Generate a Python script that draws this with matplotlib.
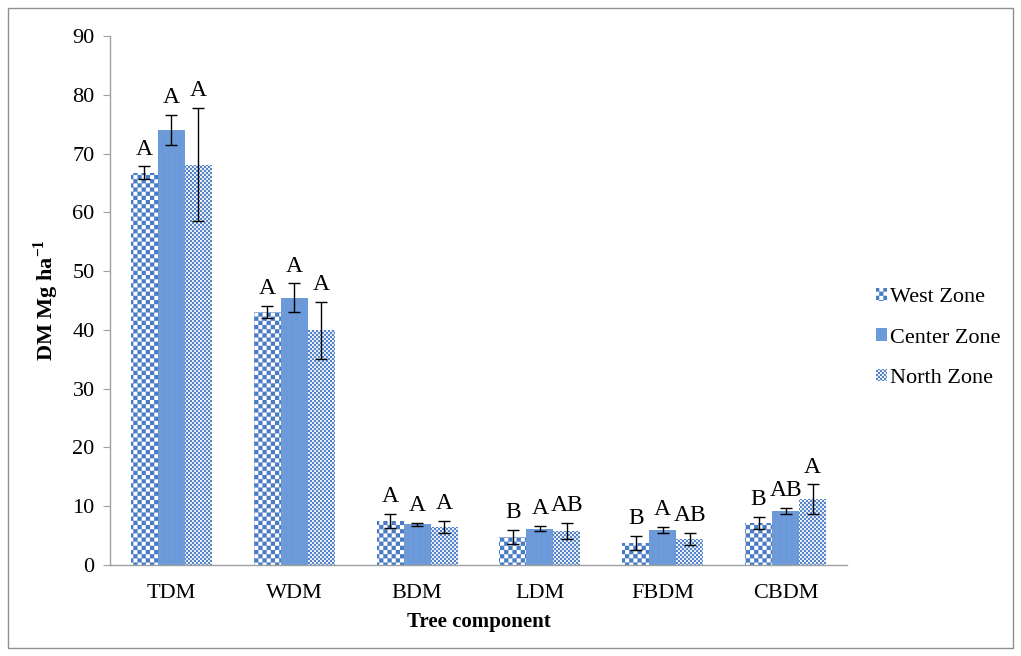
import warnings
import numpy as np
import matplotlib
matplotlib.use("Agg")
import matplotlib.pyplot as plt
import matplotlib.hatch as mhatch
from matplotlib.path import Path
from matplotlib.patches import Rectangle

warnings.filterwarnings("ignore")

components = ["TDM", "WDM", "BDM", "LDM", "FBDM", "CBDM"]
zones = ["West Zone", "Center Zone", "North Zone"]

west = [66.7, 43.0, 7.5, 4.7, 3.8, 7.1]
center = [74.0, 45.5, 6.9, 6.2, 5.9, 9.2]
north = [68.1, 39.9, 6.5, 5.8, 4.4, 11.2]

west_err = [1.1, 1.0, 1.2, 1.2, 1.2, 1.0]
center_err = [2.6, 2.4, 0.3, 0.5, 0.5, 0.5]
north_err = [9.6, 4.9, 1.0, 1.3, 1.0, 2.5]

west_lbl = ["A", "A", "A", "B", "B", "B"]
center_lbl = ["A", "A", "A", "A", "A", "AB"]
north_lbl = ["A", "A", "A", "AB", "AB", "A"]


class Checker(mhatch.HatchPatternBase):
    # filled checkerboard squares: 'c' coarse, 'k' fine
    def __init__(self, hatch, density):
        n = 24 * hatch.count("c") + 50 * hatch.count("k")
        self.n = n
        self.squares = [(i, j) for i in range(n) for j in range(n) if (i + j) % 2 == 0] if n else []
        self.num_vertices = len(self.squares) * 5

    def set_vertices_and_codes(self, vertices, codes):
        s = 1.0 / self.n
        k = 0
        for i, j in self.squares:
            x, y = i * s, j * s
            vertices[k:k + 5] = [(x, y), (x + s, y), (x + s, y + s), (x, y + s), (x, y)]
            codes[k:k + 5] = [Path.MOVETO, Path.LINETO, Path.LINETO, Path.LINETO, Path.CLOSEPOLY]
            k += 5


mhatch._hatch_types.append(Checker)
plt.rcParams["hatch.linewidth"] = 0.1
plt.rcParams["font.family"] = ["Liberation Serif", "DejaVu Serif"]
plt.rcParams["mathtext.fontset"] = "custom"
plt.rcParams["mathtext.rm"] = "Liberation Serif"
plt.rcParams["mathtext.bf"] = "Liberation Serif:bold"

fig = plt.figure(figsize=(10.21, 6.56), dpi=100)
ax = fig.add_axes([110 / 1021, 1 - 565 / 656, 737 / 1021, 529 / 656])

x = np.arange(len(components))
w = 0.22
blue = "#4a7cc4"
styles = [
    dict(facecolor="white", edgecolor=blue, hatch="c"),
    dict(facecolor="#6d9ad8", edgecolor="#5a87c9", hatch="|||"),
    dict(facecolor="white", edgecolor="#5585c8", hatch="k"),
]
series = [(west, west_err, west_lbl), (center, center_err, center_lbl), (north, north_err, north_lbl)]

for k, (vals, errs, lbls) in enumerate(series):
    pos = x + (k - 1) * w
    ax.bar(pos, vals, w, linewidth=0, label=zones[k], **styles[k])
    ax.errorbar(pos, vals, yerr=errs, fmt="none", ecolor="black", elinewidth=1,
                capsize=4, capthick=1)
    for p, v, e, t in zip(pos, vals, errs, lbls):
        ax.annotate(t, (p, v + e), xytext=(0, 5), textcoords="offset points",
                    ha="center", va="bottom", fontsize=17)

ax.set_xlim(-0.5, len(components) - 0.5)
ax.set_ylim(0, 90)
ax.set_yticks(range(0, 91, 10))
ax.set_xticks(x)
ax.set_xticklabels(components, fontsize=16)
ax.tick_params(axis="y", labelsize=16, color="#a0a0a0", length=5, pad=6)
ax.tick_params(axis="x", length=0, pad=14)
for side in ["top", "right"]:
    ax.spines[side].set_visible(False)
for side in ["left", "bottom"]:
    ax.spines[side].set_color("#a0a0a0")
    ax.spines[side].set_linewidth(1)

ax.set_xlabel("Tree component", fontsize=15, fontweight="bold", labelpad=6)
ax.set_ylabel(r"DM Mg ha$^{\mathbf{-1}}$", fontsize=16, fontweight="bold", labelpad=8)

ax.legend(loc="center left", bbox_to_anchor=(856 / 1021, 1 - 338 / 656),
          bbox_transform=fig.transFigure, frameon=False, fontsize=16,
          handlelength=0.5, handleheight=0.5, handletextpad=0.15, labelspacing=0.95)

fig.patches.append(Rectangle((8 / 1021, 8 / 656), 1005 / 1021, 640 / 656,
                             transform=fig.transFigure, fill=False,
                             edgecolor="#909090", linewidth=1))

fig.savefig("out.png", dpi=100)
